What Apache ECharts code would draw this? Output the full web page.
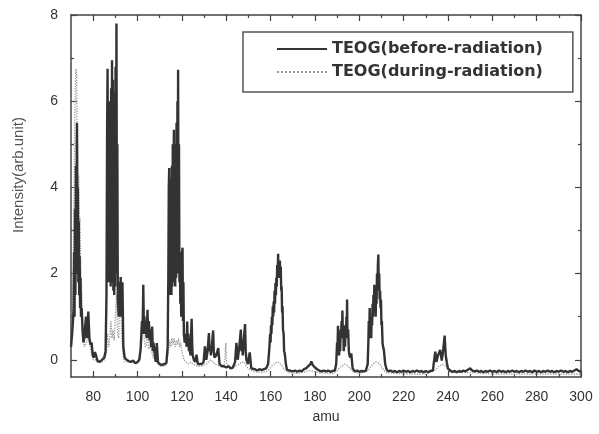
<!DOCTYPE html>
<html>
<head>
<meta charset="utf-8">
<script src="https://cdn.jsdelivr.net/npm/echarts@6/dist/echarts.min.js"></script>
<style>html,body{margin:0;padding:0;background:#fff}#c{width:599px;height:434px}</style>
</head>
<body>
<div id="c"></div>
<script>
// [amu, intensity]
const beforeRadiation = [[70,0.3],[70.5,0.6],[71,1.0],[71.2,1.2],[71.4,2.5],[71.6,1.0],[71.8,3.5],[72,1.5],[72.2,4.5],[72.4,2.0],[72.6,5.0],[72.7,5.5],[72.9,2.5],[73.1,4.0],[73.3,1.8],[73.5,3.2],[73.7,1.5],[73.9,2.4],[74.1,1.2],[74.3,1.9],[74.5,1.0],[74.8,1.2],[75.2,0.7],[75.6,0.4],[76,0.5],[76.4,0.8],[76.8,1.0],[77.2,0.5],[77.8,1.12],[78.3,0.5],[78.8,0.35],[79.3,0.4],[79.8,0.1],[80.3,0.05],[80.8,0.18],[81.3,0.1],[82,-0.03],[83,-0.05],[84,0],[85,0.05],[85.6,0.2],[86,1.5],[86.3,5.5],[86.5,6.75],[86.7,2.5],[86.9,6.0],[87.1,1.8],[87.3,5.5],[87.5,2.0],[87.7,6.0],[87.9,1.7],[88.1,6.3],[88.3,2.0],[88.5,6.95],[88.7,1.8],[88.9,6.5],[89.1,1.6],[89.3,5.8],[89.5,1.5],[89.7,6.2],[89.9,1.7],[90.1,6.8],[90.3,2.0],[90.5,7.8],[90.7,3.0],[90.9,5.0],[91.1,1.5],[91.5,1.0],[91.9,1.8],[92.1,1.2],[92.4,1.92],[92.6,1.0],[92.8,1.7],[93.0,1.0],[93.2,1.8],[93.6,0.3],[94.2,0.05],[95,0],[96,-0.03],[97,-0.05],[98,-0.02],[99,-0.08],[100,-0.05],[100.8,0],[101.4,0.25],[102,0.9],[102.3,0.6],[102.6,1.74],[102.9,0.6],[103.1,1.0],[103.5,0.6],[103.8,0.9],[104.1,0.5],[104.5,1.16],[104.8,0.5],[105.1,0.9],[105.5,0.45],[105.8,0.7],[106.1,0.3],[106.6,0.77],[106.9,0.2],[107.2,0.4],[107.8,0.1],[108.2,-0.05],[108.7,0.39],[109.2,-0.05],[110,-0.1],[111,-0.12],[112,-0.1],[113,-0.08],[113.6,0.3],[113.9,2.0],[114.1,4.0],[114.3,4.45],[114.5,1.5],[114.7,4.0],[114.9,1.6],[115.1,4.2],[115.3,1.5],[115.5,4.5],[115.7,1.7],[115.9,5.0],[116.1,1.8],[116.4,5.34],[116.6,1.8],[116.8,4.8],[117,1.7],[117.2,5.0],[117.4,1.9],[117.6,5.5],[117.8,2.0],[118,6.0],[118.2,2.2],[118.3,6.73],[118.5,2.0],[118.7,5.0],[118.9,1.8],[119.1,2.5],[119.3,1.3],[119.5,2.3],[119.7,1.0],[120,2.4],[120.3,2.6],[120.5,0.9],[120.7,1.8],[120.9,0.6],[121.3,0.4],[121.9,0.6],[122.1,0.3],[122.4,0.89],[122.7,0.3],[122.9,0.6],[123.2,0.2],[123.4,0.3],[123.9,0.1],[124.1,0.5],[124.4,0.95],[124.7,0.3],[124.9,0.1],[125.4,0],[126,-0.05],[126.6,0.12],[127.2,-0.1],[128,-0.12],[129,-0.1],[129.8,-0.05],[130.4,0.31],[131,0],[131.6,0.2],[132.2,0.62],[132.5,0.2],[132.8,0.3],[133.1,0.1],[133.5,0.3],[134.1,0.68],[134.4,0.2],[134.7,0.05],[135.5,0.1],[136.4,0.27],[137,-0.1],[138,-0.15],[139,-0.15],[140,-0.18],[141,-0.15],[142,-0.2],[143,-0.18],[144,-0.05],[144.6,0.39],[145.2,0],[145.9,0.3],[146.6,0.7],[146.9,0.2],[147.2,0.3],[147.5,0.1],[147.8,0.4],[148.5,0.83],[148.8,0.2],[149.1,0],[149.8,-0.1],[150.6,0.17],[151.3,-0.2],[152,-0.23],[153,-0.22],[154,-0.25],[155,-0.22],[156,-0.24],[157,-0.22],[158,-0.2],[158.9,-0.1],[159.5,0.3],[159.8,0.6],[160,0.4],[160.2,0.8],[160.4,0.6],[160.6,1.0],[160.8,0.8],[161,1.24],[161.2,1.0],[161.4,1.35],[161.6,1.1],[161.8,1.6],[162,1.3],[162.2,1.78],[162.4,1.5],[162.6,1.9],[162.8,1.7],[163,2.2],[163.2,1.9],[163.4,2.46],[163.6,2.0],[163.8,2.3],[164,1.9],[164.2,2.3],[164.4,1.9],[164.6,2.16],[164.8,1.6],[165,1.7],[165.2,1.1],[165.4,1.24],[165.6,0.7],[165.9,0.6],[166.1,0.2],[166.4,0.15],[166.9,-0.1],[167.4,-0.23],[168.5,-0.25],[170,-0.27],[171,-0.25],[172,-0.28],[173,-0.25],[174,-0.27],[175,-0.22],[176,-0.2],[177,-0.15],[178,-0.1],[178.4,-0.04],[179,-0.12],[180,-0.18],[181,-0.22],[182,-0.25],[183,-0.27],[184,-0.25],[185,-0.27],[186,-0.25],[187,-0.28],[188,-0.26],[189,-0.25],[189.6,-0.1],[190,0.4],[190.2,0.2],[190.4,0.79],[190.6,0.3],[190.9,0.1],[191.2,0.4],[191.4,0.2],[191.6,0.7],[191.8,0.5],[192,0.9],[192.2,0.5],[192.4,1.14],[192.6,0.6],[192.8,0.8],[193,0.2],[193.3,0.5],[193.6,0.3],[193.8,0.8],[194,0.5],[194.2,1.0],[194.4,0.6],[194.5,1.4],[194.7,0.5],[195,0.7],[195.3,0.2],[195.6,0.1],[196,0.05],[196.4,0.15],[197,-0.2],[198,-0.27],[199,-0.25],[200,-0.28],[201,-0.26],[202,-0.27],[203,-0.25],[203.8,-0.1],[204.1,0.4],[204.3,0.9],[204.5,0.5],[204.7,1.2],[204.9,0.6],[205.2,0.7],[205.4,0.5],[205.6,1.0],[205.8,0.8],[206,1.3],[206.2,1.0],[206.4,1.5],[206.6,1.2],[206.8,1.74],[207,1.1],[207.2,1.4],[207.4,1.0],[207.6,1.6],[207.8,1.3],[208,2.0],[208.2,1.6],[208.4,2.2],[208.6,2.44],[208.8,1.7],[209,2.0],[209.2,1.4],[209.4,1.6],[209.6,1.2],[209.8,1.39],[210,0.8],[210.2,0.9],[210.5,0.4],[210.7,0.31],[211.1,0.23],[211.7,-0.1],[212.3,-0.22],[213,-0.27],[214,-0.25],[215,-0.28],[216,-0.26],[217,-0.29],[218,-0.26],[219,-0.28],[220,-0.25],[221,-0.28],[222,-0.26],[223,-0.29],[224,-0.26],[225,-0.28],[226,-0.25],[227,-0.28],[228,-0.26],[229,-0.29],[230,-0.26],[231,-0.29],[232,-0.26],[233.2,-0.25],[233.8,0],[234.3,0.19],[234.8,-0.05],[235.5,0.1],[236.5,0.23],[237.2,-0.02],[237.8,0.2],[238.5,0.56],[239,0.1],[239.5,-0.07],[240,-0.2],[241,-0.25],[242,-0.28],[243,-0.26],[244,-0.29],[245,-0.26],[246,-0.28],[247,-0.25],[248,-0.27],[249,-0.23],[250,-0.2],[251,-0.25],[252,-0.27],[253,-0.25],[254,-0.28],[255,-0.26],[256,-0.29],[257,-0.26],[258,-0.28],[259,-0.25],[260,-0.28],[261,-0.26],[262,-0.29],[263,-0.25],[264,-0.28],[265,-0.26],[266,-0.29],[267,-0.26],[268,-0.28],[269,-0.25],[270,-0.28],[271,-0.26],[272,-0.29],[273,-0.26],[274,-0.28],[275,-0.25],[276,-0.28],[277,-0.26],[278,-0.29],[279,-0.25],[280,-0.28],[281,-0.26],[282,-0.29],[283,-0.26],[284,-0.28],[285,-0.25],[286,-0.28],[287,-0.26],[288,-0.29],[289,-0.26],[290,-0.28],[291,-0.25],[292,-0.28],[293,-0.26],[294,-0.29],[295,-0.26],[296,-0.28],[297,-0.25],[298,-0.22],[299,-0.26],[300,-0.27]];

const duringRadiation = [[70,0.3],[70.5,0.8],[71,2.0],[71.4,4.0],[71.8,6.0],[72.2,6.75],[72.6,6.6],[72.8,4.0],[73,5.0],[73.2,3.5],[73.5,4.3],[73.8,2.8],[74,3.3],[74.5,2.0],[75,1.4],[75.5,0.6],[76,0.3],[77,0.4],[78,0.5],[79,0.2],[80,0],[81,0],[82,-0.05],[84,-0.05],[85,0],[86,0.15],[86.5,0.6],[87,0.3],[87.5,0.5],[88,0.9],[88.5,0.5],[89,0.7],[89.5,0.45],[90,1.0],[90.5,1.5],[91,0.6],[91.5,0.5],[92,1.6],[92.5,1.2],[93,0.4],[93.5,0.1],[94,-0.05],[96,-0.05],[98,-0.05],[100,-0.08],[101,0],[102,0.5],[102.5,1.7],[103,0.5],[103.5,0.3],[104,0.35],[104.5,0.55],[105,0.25],[106,0.3],[107,0.05],[108,0.1],[109,-0.1],[110,-0.15],[112,-0.15],[113,-0.1],[114,0.2],[114.5,0.45],[115,0.3],[115.5,0.5],[116,0.35],[116.5,0.5],[117,0.3],[117.5,0.45],[118,0.35],[118.5,0.5],[119,0.3],[119.5,0.4],[120,0.2],[121,0],[122,-0.05],[123,-0.1],[124,-0.05],[125,-0.1],[127,-0.15],[129,-0.15],[131,-0.1],[132,-0.05],[133,0],[134,-0.05],[135,-0.1],[137,-0.15],[139,-0.15],[139.5,0.1],[139.8,0.39],[140.2,-0.1],[142,-0.2],[144,-0.15],[146,-0.1],[147,-0.05],[148,-0.05],[149,-0.15],[150,-0.2],[152,-0.27],[156,-0.3],[159,-0.25],[160.5,-0.15],[162,-0.08],[163,-0.05],[164,-0.07],[165,-0.12],[166,-0.22],[168,-0.3],[172,-0.32],[178,-0.25],[182,-0.3],[188,-0.32],[190,-0.25],[192,-0.15],[193.5,-0.1],[195,-0.15],[197,-0.28],[200,-0.32],[204,-0.25],[206,-0.1],[207.5,-0.05],[209,-0.08],[210.5,-0.2],[212,-0.3],[220,-0.33],[230,-0.33],[234,-0.25],[236,-0.15],[237.5,-0.1],[239,-0.15],[241,-0.3],[250,-0.3],[260,-0.33],[270,-0.33],[280,-0.33],[290,-0.33],[300,-0.33]];

const xTicks = [80,100,120,140,160,180,200,220,240,260,280,300];
const xMinorTicks = [90,110,130,150,170,190,210,230,250,270,290];
const yTicks = [0,2,4,6,8];
const yMinorTicks = [1,3,5,7];
const seriesNames = ['TEOG(before-radiation)', 'TEOG(during-radiation)'];

const axisColor = '#444';
const labelFont = { fontSize: 14, color: '#333', fontFamily: 'Liberation Sans, Arial, sans-serif' };

function xAx(pos, ticks, len, labels, line) {
  return {
    type: 'value', min: 70, max: 300, position: pos,
    axisLine: { show: line, onZero: false, lineStyle: { color: axisColor, width: 1.5 } },
    axisTick: { show: true, inside: true, length: len, customValues: ticks, lineStyle: { color: axisColor, width: 1.2 } },
    axisLabel: labels ? Object.assign({ show: true, customValues: ticks, margin: 13 }, labelFont) : { show: false },
    splitLine: { show: false }
  };
}
function yAx(pos, ticks, len, labels, line) {
  return {
    type: 'value', min: -0.4, max: 8, position: pos,
    axisLine: { show: line, onZero: false, lineStyle: { color: axisColor, width: 1.5 } },
    axisTick: { show: true, inside: true, length: len, customValues: ticks, lineStyle: { color: axisColor, width: 1.2 } },
    axisLabel: labels ? Object.assign({ show: true, customValues: ticks, margin: 13 }, labelFont) : { show: false },
    splitLine: { show: false }
  };
}

const xMain = xAx('bottom', xTicks, 6, true, true);
xMain.name = 'amu';
xMain.nameLocation = 'middle';
xMain.nameGap = 33;
xMain.nameTextStyle = { fontSize: 14, color: '#333', fontFamily: 'Liberation Sans, Arial, sans-serif' };

const chart = echarts.init(document.getElementById('c'), null, { renderer: 'canvas' });
chart.setOption({
  backgroundColor: '#fff',
  animation: false,
  grid: { left: 71, right: 18, top: 15, bottom: 57, containLabel: false, outerBoundsMode: 'none' },
  legend: {
    data: seriesNames,
    orient: 'vertical',
    left: 243, top: 32,
    padding: [9, 30, 12, 33],
    itemWidth: 50, itemHeight: 16, itemGap: 7,
    itemStyle: { opacity: 0 },
    borderColor: '#555', borderWidth: 1.5,
    textStyle: { fontSize: 16, fontWeight: 'bold', color: '#333', fontFamily: 'DejaVu Sans, sans-serif' }
  },
  xAxis: [
    xMain,
    xAx('bottom', xMinorTicks, 3, false, false),
    xAx('top', xTicks, 6, false, true),
    xAx('top', xMinorTicks, 3, false, false)
  ],
  yAxis: [
    yAx('left', yTicks, 6, true, true),
    yAx('left', yMinorTicks, 3, false, false),
    yAx('right', yTicks, 6, false, true),
    yAx('right', yMinorTicks, 3, false, false)
  ],
  graphic: [{
    type: 'text', x: 19, y: 175, rotation: Math.PI / 2,
    style: { text: 'Intensity(arb.unit)', fontSize: 15, fill: '#555', align: 'center', verticalAlign: 'middle', fontFamily: 'Liberation Sans, Arial, sans-serif' }
  }],
  series: [
    {
      name: seriesNames[0], type: 'line', data: beforeRadiation, symbol: 'none', z: 3,
      lineStyle: { color: '#333', width: 2.4 }, itemStyle: { color: '#333' }
    },
    {
      name: seriesNames[1], type: 'line', data: duringRadiation, symbol: 'none', z: 2,
      lineStyle: { color: '#999', width: 1.3, type: 'dotted' }, itemStyle: { color: '#999' }
    }
  ]
});
</script>
</body>
</html>
